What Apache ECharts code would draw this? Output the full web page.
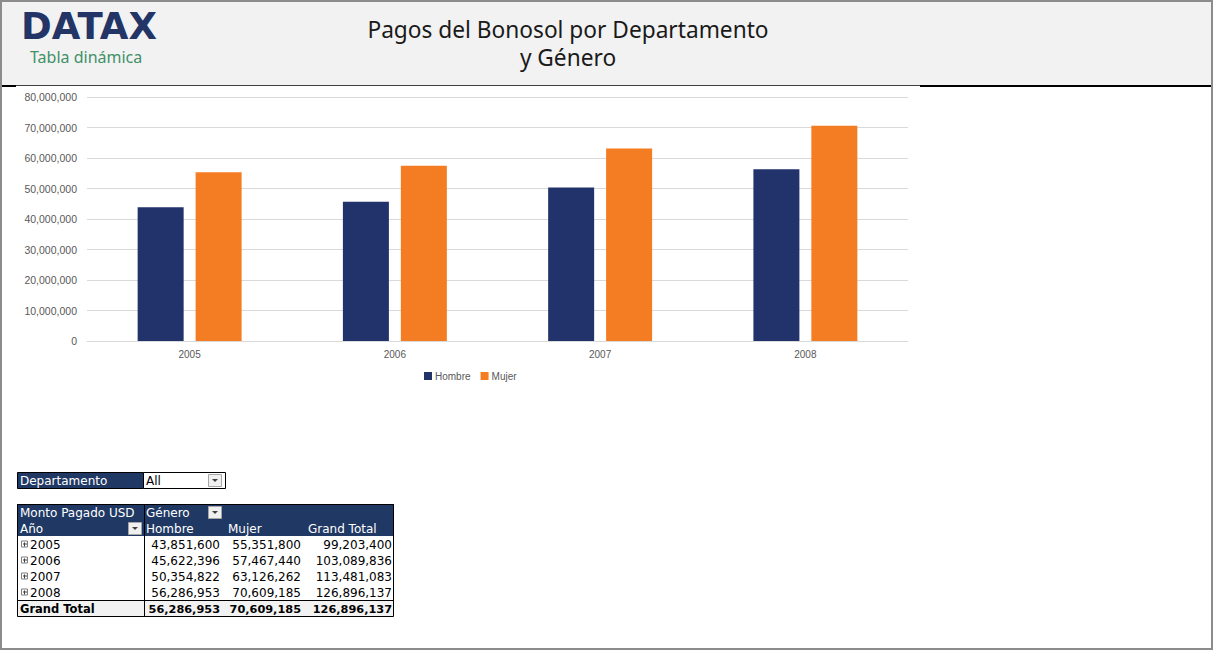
<!DOCTYPE html>
<html>
<head>
<meta charset="utf-8">
<title>Pagos del Bonosol por Departamento y Género</title>
<script src="https://cdn.jsdelivr.net/npm/echarts@6/dist/echarts.min.js"></script>
<style>
  html, body { margin: 0; padding: 0; background: #fff; }
  #main { width: 1214px; height: 651px; }
</style>
</head>
<body>
<div id="main"></div>
<script>
const years = ['2005', '2006', '2007', '2008'];
const hombre = [43851600, 45622396, 50354822, 56286953];
const mujer = [55351800, 57467440, 63126262, 70609185];
const grandTotal = [99203400, 103089836, 113481083, 126896137];
const totalRow = [56286953, 70609185, 126896137];
const colHeaders = ['Hombre', 'Mujer', 'Grand Total'];
const yMax = 80000000;
const yStep = 10000000;

const NAVY = '#203864';
const ORANGE = '#f47c22';
const BAR_NAVY = '#22326a';
const FONT_TBL = '"DejaVu Sans"';

const fmt = v => v.toLocaleString('en-US');

const chart = echarts.init(document.getElementById('main'), null, { renderer: 'svg' });

// --- elementos graficos: cabecera, marco y tabla dinamica ---
const els = [];

function rect(x, y, w, h, fill, stroke, lw, z) {
  els.push({
    type: 'rect', z: z || 0, silent: true,
    shape: { x: x, y: y, width: w, height: h },
    style: { fill: fill || 'none', stroke: stroke || null, lineWidth: lw || 0 }
  });
}
function line(x1, y1, x2, y2, stroke, lw, z) {
  els.push({
    type: 'line', z: z || 5, silent: true,
    shape: { x1: x1, y1: y1, x2: x2, y2: y2 },
    style: { stroke: stroke, lineWidth: lw || 1 }
  });
}
function txt(s, x, y, font, fill, align) {
  els.push({
    type: 'text', z: 10, silent: true,
    style: {
      text: s, x: x, y: y, font: font, fill: fill,
      textAlign: align || 'left', textVerticalAlign: 'middle'
    }
  });
}
function dropBtn(x, y) {
  rect(x + 0.5, y + 0.5, 13, 12, '#f0f0f0', '#a6a6a6', 1, 6);
  els.push({
    type: 'polygon', z: 7, silent: true,
    shape: { points: [[x + 4, y + 5], [x + 10, y + 5], [x + 7, y + 8]] },
    style: { fill: '#404040' }
  });
}
function expandIcon(x, y) {
  rect(x + 0.5, y + 0.5, 6, 6, '#fff', '#7f7f7f', 1, 6);
  line(x + 2, y + 3.5, x + 6, y + 3.5, '#404040', 1, 7);
  line(x + 3.5, y + 2, x + 3.5, y + 6, '#404040', 1, 7);
}

// cabecera
rect(1, 1, 1211, 84, '#f2f2f2', null, 0, 0);
line(1, 85.5, 920, 85.5, '#404040', 1);
line(920, 86, 1211, 86, '#000', 2);
line(1, 86, 16, 86, '#000', 2);
// marco exterior
rect(1, 1, 1211, 648, 'none', '#8c8c8c', 2, 20);

txt('DATAX', 21, 26, 'bold 37px "DejaVu Sans"', '#233466');
txt('Tabla dinámica', 30, 57, '16px "Noto Sans"', '#3f9068');
txt('Pagos del Bonosol por Departamento', 568, 29, '22.7px "Noto Sans"', '#1a1a1a', 'center');
txt('y Género', 568, 57, '22.7px "Noto Sans"', '#1a1a1a', 'center');

// filtro Departamento
rect(17.5, 472.5, 126, 16, NAVY, '#000', 1, 1);
rect(143.5, 472.5, 82, 16, '#fff', '#000', 1, 1);
txt('Departamento', 20, 481, '12px ' + FONT_TBL, '#fff');
txt('All', 146, 481, '12px ' + FONT_TBL, '#000');
dropBtn(208, 474);

// tabla
const colX = [17, 144, 222, 303, 394];
const headOffset = [2, 6, 5];
const tTop = 504, rowH = 16;
rect(17, tTop, 377, 32, NAVY, null, 0, 1);
txt('Monto Pagado USD', 20, tTop + 8.5, '12px ' + FONT_TBL, '#fff');
txt('Género', 146, tTop + 8.5, '12px ' + FONT_TBL, '#fff');
dropBtn(208, tTop + 2);
txt('Año', 20, tTop + 24.5, '12px ' + FONT_TBL, '#fff');
dropBtn(128, tTop + 18);
colHeaders.forEach((h, i) => {
  txt(h, colX[i + 1] + headOffset[i], tTop + 24.5, '12px ' + FONT_TBL, '#fff');
});

years.forEach((yr, r) => {
  const cy = tTop + 32 + r * rowH + 8.5;
  expandIcon(21, cy - 4);
  txt(yr, 30, cy, '12px ' + FONT_TBL, '#000');
  [hombre[r], mujer[r], grandTotal[r]].forEach((v, c) => {
    txt(fmt(v), colX[c + 2] - 2, cy, '12px ' + FONT_TBL, '#000', 'right');
  });
});

const gtTop = tTop + 32 + years.length * rowH;
rect(17, gtTop, 377, 17, '#f2f2f2', null, 0, 1);
line(17, gtTop + 0.5, 394, gtTop + 0.5, '#000', 1);
txt('Grand Total', 20, gtTop + 9, 'bold 11.5px ' + FONT_TBL, '#000');
totalRow.forEach((v, c) => {
  txt(fmt(v), colX[c + 2] - 2, gtTop + 9, 'bold 11.3px ' + FONT_TBL, '#000', 'right');
});
line(144.5, tTop, 144.5, gtTop + 17, '#000', 1);
rect(17.5, tTop + 0.5, 376, gtTop + 17 - tTop - 1, 'none', '#000', 1, 8);

const option = {
  backgroundColor: '#fff',
  animation: false,
  textStyle: { fontFamily: '"Liberation Sans", Arial, sans-serif' },
  grid: { left: 87, right: 306, top: 97, bottom: 310, containLabel: false },
  legend: {
    data: ['Hombre', 'Mujer'],
    left: 419,
    top: 366,
    itemWidth: 8,
    itemHeight: 8,
    itemGap: 10,
    icon: 'rect',
    textStyle: { color: '#595959', fontSize: 10, padding: [0, 0, 0, -2] }
  },
  xAxis: {
    type: 'category',
    data: years,
    axisLine: { lineStyle: { color: '#d9d9d9' } },
    axisTick: { show: false },
    axisLabel: { color: '#595959', fontSize: 10, margin: 8 }
  },
  yAxis: {
    type: 'value',
    min: 0,
    max: yMax,
    interval: yStep,
    axisLine: { show: false },
    axisTick: { show: false },
    splitLine: { lineStyle: { color: '#d9d9d9' } },
    axisLabel: { color: '#595959', fontSize: 10.5, margin: 10, formatter: v => fmt(v) }
  },
  series: [
    {
      name: 'Hombre', type: 'bar', data: hombre,
      barWidth: 46, barGap: '26%',
      itemStyle: { color: BAR_NAVY }
    },
    {
      name: 'Mujer', type: 'bar', data: mujer,
      barWidth: 46,
      itemStyle: { color: ORANGE }
    }
  ],
  graphic: { elements: els }
};

chart.setOption(option);
</script>
</body>
</html>
